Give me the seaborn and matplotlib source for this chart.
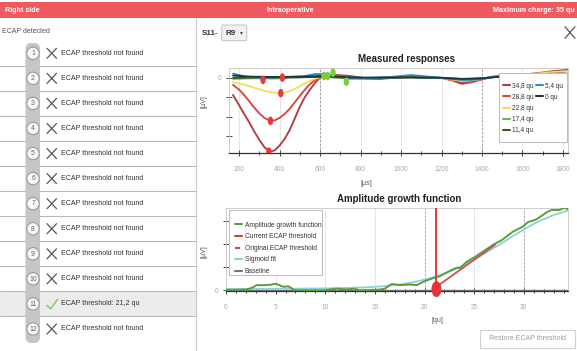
import matplotlib
matplotlib.use("Agg")
import numpy as np
import pandas as pd
import matplotlib.pyplot as plt
import seaborn as sns
from matplotlib import font_manager as fm
from matplotlib.path import Path
from matplotlib.markers import MarkerStyle
from matplotlib.patches import Rectangle, Circle, FancyBboxPatch
from matplotlib.lines import Line2D
import matplotlib.ticker as mticker
import matplotlib.transforms as mtrans

# ---------------- DATA ----------------
header_left = "Right side"
header_mid = "Intraoperative"
header_right = "Maximum charge: 35 qu"
panel_caption = "ECAP detected"
electrodes = list(range(1, 13))
electrode_status = ["ECAP threshold not found"] * 10 + ["ECAP threshold: 21,2 qu", "ECAP threshold not found"]
electrode_found = [False] * 10 + [True, False]
selected_electrode = 11
stim_label = "S11-"
rec_label = "R9"

time_us = [170, 200, 225, 250, 275, 300, 325, 350, 375, 400, 425, 450, 475, 500, 525, 550, 575, 600,
           650, 700, 750, 800, 850, 900, 950, 1000, 1050, 1100, 1150, 1200, 1250, 1300, 1350, 1400,
           1450, 1500, 1550, 1600, 1650, 1700, 1750, 1825]
resp_34_8 = [-0.87, -1.40, -1.85, -2.28, -2.75, -3.18, -3.55, -3.78, -3.72, -3.47, -3.12, -2.67, -2.08, -1.47,
             -0.98, -0.60, -0.25, 0.02, 0.15, 0.14, 0.10, 0.02, -0.05, -0.05, 0.00, 0.02, 0.05, 0.03, 0.02,
             0.00, -0.12, -0.30, -0.22, -0.08, 0.05, 0.15, 0.18, 0.20, 0.20, 0.22, 0.27, 0.35]
resp_28_8 = [-0.36, -0.60, -0.88, -1.20, -1.52, -1.82, -2.05, -2.18, -2.18, -2.05, -1.85, -1.58, -1.25, -0.92,
             -0.60, -0.32, -0.10, 0.05, 0.15, 0.12, 0.05, -0.02, -0.06, -0.02, 0.02, 0.05, 0.04, 0.00, 0.02,
             0.00, -0.10, -0.22, -0.18, -0.05, 0.05, 0.12, 0.15, 0.18, 0.22, 0.28, 0.35, 0.42]
resp_22_8 = [-0.22, -0.28, -0.34, -0.42, -0.50, -0.58, -0.66, -0.72, -0.76, -0.78, -0.76, -0.68, -0.56, -0.42,
             -0.28, -0.15, -0.04, 0.04, 0.08, 0.06, 0.02, 0.00, -0.02, 0.00, 0.02, 0.03, 0.02, 0.00, 0.00,
             -0.02, -0.08, -0.15, -0.12, -0.05, 0.05, 0.12, 0.15, 0.18, 0.20, 0.25, 0.30, 0.35]
resp_17_4 = [-0.05, -0.04, -0.03, -0.02, -0.02, -0.02, -0.02, -0.03, -0.03, -0.02, 0.00, 0.02, 0.03, 0.04,
             0.05, 0.06, 0.07, 0.08, 0.05, 0.00, -0.05, -0.05, -0.02, 0.00, 0.02, 0.05, 0.08, 0.05, 0.02,
             0.00, -0.05, -0.08, -0.06, -0.03, 0.05, 0.10, 0.12, 0.12, 0.13, 0.14, 0.15, 0.16]
resp_11_4 = [0.00, 0.00, 0.01, 0.01, 0.02, 0.02, 0.02, 0.02, 0.02, 0.02, 0.02, 0.03, 0.03, 0.03,
             0.04, 0.04, 0.05, 0.05, 0.04, 0.03, 0.01, 0.00, 0.00, 0.01, 0.02, 0.02, 0.03, 0.02, 0.01,
             0.00, -0.03, -0.05, -0.04, -0.02, 0.03, 0.08, 0.09, 0.10, 0.10, 0.11, 0.12, 0.12]
resp_5_4 = [0.22, 0.15, 0.08, 0.05, 0.03, 0.02, 0.02, 0.02, 0.03, 0.04, 0.05, 0.06, 0.07, 0.08,
            0.10, 0.15, 0.20, 0.20, 0.15, 0.05, 0.00, 0.00, 0.00, 0.02, 0.05, 0.10, 0.15, 0.10, 0.05,
            0.00, -0.05, -0.10, -0.10, -0.05, 0.05, 0.10, 0.15, 0.15, 0.18, 0.20, 0.22, 0.22]
resp_0 = [0.12, 0.10, 0.08, 0.07, 0.06, 0.06, 0.05, 0.05, 0.05, 0.05, 0.05, 0.05, 0.06, 0.06,
          0.07, 0.08, 0.09, 0.10, 0.10, 0.06, 0.03, 0.02, 0.02, 0.02, 0.02, 0.03, 0.03, 0.02, 0.02,
          0.01, -0.02, -0.05, -0.04, -0.02, 0.03, 0.08, 0.09, 0.10, 0.10, 0.11, 0.12, 0.12]
level_labels = ["34,8 qu", "28,8 qu", "22,8 qu", "17,4 qu", "11,4 qu", "5,4 qu", "0 qu"]
level_series = [resp_34_8, resp_28_8, resp_22_8, resp_17_4, resp_11_4, resp_5_4, resp_0]

peak_n1_us = [318, 414, 406, 355, 347]
peak_n1_uv = [-0.10, 0.02, -0.78, -2.20, -3.78]
peak_p2_us = [619, 638, 664, 730]
peak_p2_uv = [0.10, 0.10, 0.27, -0.19]

agf_qu = [0, 1, 2, 2.6, 3.1, 3.8, 4.5, 5.0, 5.8, 6.3, 6.9, 7.5, 8, 9, 10, 11.1, 12.2, 12.9, 13.4, 14.5,
          15.5, 16.0, 16.7, 17.5, 18.5, 19.2, 20.0, 20.9, 21.5, 22.6, 23.2, 23.6, 24.2, 25.0, 25.9, 26.9,
          27.8, 28.9, 29.9, 30.4, 31.3, 32.3, 32.8, 33.6, 34.1, 34.4]
agf_uv = [0.02, 0.02, 0.03, 0.10, 0.22, 0.22, 0.24, 0.28, 0.15, 0.17, 0.00, 0.00, 0.00, 0.00, 0.00, 0.07,
          0.03, 0.07, 0.00, 0.01, 0.03, 0.07, 0.27, 0.22, 0.25, 0.22, 0.39, 0.53, 0.60, 0.85, 0.97, 0.97,
          1.22, 1.42, 1.68, 1.97, 2.18, 2.54, 2.76, 2.95, 3.08, 3.38, 3.48, 3.48, 3.58, 3.52]
sigmoid_qu = [0, 5, 10, 14, 16, 18, 19, 20, 21, 22, 23, 24, 25, 26, 27, 28, 29, 30, 31, 32, 33, 34, 34.4]
sigmoid_uv = [0.05, 0.06, 0.08, 0.12, 0.18, 0.28, 0.36, 0.46, 0.58, 0.73, 0.90, 1.10, 1.33, 1.58, 1.84,
              2.10, 2.38, 2.63, 2.88, 3.08, 3.26, 3.40, 3.45]
baseline_qu = [0, 34.4]
baseline_uv = [0.0, 0.0]
fit_qu = [21.2, 27.1]
fit_uv = [0.15, 1.97]
threshold_qu = 21.2
threshold_marker_uv = 0.05
resp_window_us = [600, 1400]
agf_dashed_qu = [20, 30]
button_label = "Restore ECAP threshold"

# ---------------- STYLE ----------------
sns.set_theme(style="white")
names = {f.name for f in fm.fontManager.ttflist}
NARROW = "Liberation Sans Narrow" if "Liberation Sans Narrow" in names else "Liberation Sans"
plt.rcParams["font.family"] = [NARROW, "DejaVu Sans"]
plt.rcParams["axes.unicode_minus"] = False

W, H = 577, 351
fig = plt.figure(figsize=(W / 100, H / 100), dpi=100)
fig.patch.set_facecolor("white")

ui = fig.add_axes([0, 0, 1, 1])
ui.set_xlim(0, W)
ui.set_ylim(H, 0)
ui.axis("off")
ui.set_zorder(0)


def rect(l, t, r, b):
    return [l / W, 1 - b / H, (r - l) / W, (b - t) / H]


# header
HDR_T, HDR_B = 2.0, 18.3
HDR_C = (HDR_T + HDR_B) / 2
ui.add_patch(Rectangle((0, HDR_T), W, HDR_B - HDR_T, color="#ef5a60", lw=0))
ui.text(5, HDR_C, header_left, color="white", fontsize=5.1, fontweight="bold", va="center", ha="left")
ui.text(290, HDR_C, header_mid, color="white", fontsize=5.1, fontweight="bold", va="center", ha="center")
ui.text(575, HDR_C, header_right, color="white", fontsize=5.1, fontweight="bold", va="center", ha="right")

# left panel
PANEL_R = 195.7
ui.plot([PANEL_R, PANEL_R], [HDR_B, H], color="#cfcfcf", lw=0.9)
ui.text(2.5, 31.7, panel_caption, fontsize=5.0, color="#555555", va="center", ha="left")
ROW0, STEP = 53.3, 25.06
for i, (num, status, ok) in enumerate(zip(electrodes, electrode_status, electrode_found)):
    yc = ROW0 + i * STEP
    if num == selected_electrode:
        ui.add_patch(Rectangle((0, yc - STEP / 2), PANEL_R, STEP, color="#ececec", lw=0))
    if i > 0:
        ui.plot([0, PANEL_R], [yc - STEP / 2] * 2, color="#b9b9b9", lw=0.8)
ui.add_patch(FancyBboxPatch((25.5, 43), 14.5, 300, boxstyle="round,pad=0,rounding_size=6",
                            color="#c6c6c6", lw=0, zorder=3))
for i, (num, status, ok) in enumerate(zip(electrodes, electrode_status, electrode_found)):
    yc = ROW0 + i * STEP
    ui.add_patch(Circle((33, yc), 6.2, facecolor="#f7f7f7", edgecolor="#9a9a9a", lw=0.8, zorder=4))
    ui.text(33, yc + 0.3, str(num), fontsize=4.9, color="#666666", ha="center", va="center", zorder=5)
    if ok:
        ui.plot([47, 50.5, 57.5], [yc + 1.5, yc + 5, yc - 4.5], color="#8cc864", lw=1.1,
                solid_capstyle="round")
    else:
        ui.plot([47, 56.5], [yc - 5, yc + 5], color="#555555", lw=0.9)
        ui.plot([47, 56.5], [yc + 5, yc - 5], color="#555555", lw=0.9)
    ui.text(61, yc, status, fontsize=5.1, color="#333333", va="center", ha="left")

# right panel header
ui.text(202, 33.3, stim_label, fontsize=5.8, fontweight="bold", color="#333333", va="center", ha="left")
ui.add_patch(FancyBboxPatch((221.7, 25), 25, 15.7, boxstyle="round,pad=0,rounding_size=1.5",
                            facecolor="#f1f1f1", edgecolor="#c8c8c8", lw=0.8))
ui.text(225, 33.3, rec_label, fontsize=5.8, fontweight="bold", color="#333333", va="center", ha="left")
ui.text(239.5, 33.0, "▾", fontsize=4.2, color="#444444", va="center", ha="left", family=["DejaVu Sans"])
ui.plot([565, 575], [26.7, 38.3], color="#555555", lw=0.9)
ui.plot([565, 575], [38.3, 26.7], color="#555555", lw=0.9)

# restore button
ui.add_patch(Rectangle((480, 329.5), 95, 18, facecolor="white", edgecolor="#d0d0d0", lw=0.8))
ui.text(527.5, 338.5, button_label, fontsize=5.0, color="#9a9a9a", ha="center", va="center")

ell = MarkerStyle(Path.unit_circle().transformed(mtrans.Affine2D().scale(0.63, 1.0)))

# ---------------- TOP CHART ----------------
T_L, T_T, T_R, T_B = 229, 68, 568, 153
ax1 = fig.add_axes(rect(T_L, T_T, T_R, T_B))
ax1.set_zorder(1)
ax1.set_facecolor("white")
palette = {"34,8 qu": "#b23b45", "28,8 qu": "#d6463f", "22,8 qu": "#f0e05a", "17,4 qu": "#6cb84a",
           "11,4 qu": "#3a5a22", "5,4 qu": "#2e8fc0", "0 qu": "#1f3344"}
rows = []
for lab, ser in zip(level_labels, level_series):
    for t, v in zip(time_us, ser):
        rows.append((t, v, lab))
df_resp = pd.DataFrame(rows, columns=["time", "amp", "level"])

ax1.set_xlim(150, 1825)
ax1.set_ylim(-3.85, 0.51)
ax1.xaxis.set_major_locator(mticker.MultipleLocator(200))
ax1.xaxis.set_minor_locator(mticker.MultipleLocator(100))
ax1.grid(axis="x", which="major", color="#e6e6e6", lw=0.7)
for w in resp_window_us:
    ax1.axvline(w, color="#9a9a9a", lw=0.7, ls=(0, (2, 2)), zorder=1)

sns.lineplot(data=df_resp, x="time", y="amp", hue="level", hue_order=level_labels, palette=palette,
             ax=ax1, linewidth=1.35, legend=False, estimator=None, sort=False, zorder=2)
sns.scatterplot(x=peak_n1_us, y=peak_n1_uv, ax=ax1, color="#e23c3c", marker=ell, s=38,
                edgecolor="none", zorder=5)
sns.scatterplot(x=peak_p2_us, y=peak_p2_uv, ax=ax1, color="#7dcc3c", marker=ell, s=38,
                edgecolor="none", zorder=5)

ax1.set_yticks([0, -1, -2, -3])
ax1.set_yticklabels(["0", "", "", ""])
ax1.set_xlabel("[µs]", fontsize=5.0, color="#555555")
ax1.set_ylabel("[µV]", fontsize=5.0, color="#555555")
ax1.xaxis.set_label_coords((366 - T_L) / (T_R - T_L), -(180 - T_B) / (T_B - T_T))
ax1.yaxis.set_label_coords((207 - T_L) / (T_R - T_L), 1 - (101.7 - T_T) / (T_B - T_T))
ax1.tick_params(axis="both", which="major", direction="inout", length=4, width=0.7, color="#444444",
                labelsize=4.8, labelcolor="#aaaaaa", bottom=True, left=True)
ax1.tick_params(axis="x", which="major", pad=7.5)
ax1.tick_params(axis="y", which="major", pad=3.5)
ax1.tick_params(axis="x", which="minor", direction="inout", length=3, width=0.7, color="#444444",
                bottom=True)
for s in ["top", "right", "left"]:
    ax1.spines[s].set_color("#cdcdcd")
    ax1.spines[s].set_linewidth(0.7)
ax1.spines["bottom"].set_color("#333333")
ax1.spines["bottom"].set_linewidth(0.9)
ax1.text((406 - T_L) / (T_R - T_L), 1 + (T_T - 59) / (T_B - T_T), "Measured responses",
         transform=ax1.transAxes, fontsize=7.0, fontweight="bold", color="#222222", ha="center",
         va="center")


def ax_frac(ax_box, x, y):
    l, t, r, b = ax_box
    return ((x - l) / (r - l), 1 - (y - t) / (b - t))


top_box = (T_L, T_T, T_R, T_B)
fx0, fy0 = ax_frac(top_box, 499, 73)
fx1, fy1 = ax_frac(top_box, 566.5, 142)
ax1.add_patch(Rectangle((fx0, fy1), fx1 - fx0, fy0 - fy1, transform=ax1.transAxes, facecolor="white",
                        edgecolor="#bbbbbb", lw=0.7, zorder=8))
handles = [Line2D([], [], color=palette[l], lw=1.5) for l in level_labels]
blank = Line2D([], [], color="none")
leg_h = handles[:5] + handles[5:] + [blank] * 3
leg_l = level_labels[:5] + level_labels[5:] + [""] * 3
leg1 = ax1.legend(leg_h, leg_l, ncol=2, loc="upper left", bbox_to_anchor=ax_frac(top_box, 502.5, 82.6),
                  fontsize=4.7, frameon=False, handlelength=1.1, handletextpad=0.35, columnspacing=0.3,
                  labelspacing=0.64, borderpad=0, borderaxespad=0)
leg1.set_zorder(9)
for t in leg1.get_texts():
    t.set_color("#333333")

# ---------------- BOTTOM CHART ----------------
B_L, B_T, B_R, B_B = 226, 207.7, 568, 290.7
bot_box = (B_L, B_T, B_R, B_B)
ax2 = fig.add_axes(rect(B_L, B_T, B_R, B_B))
ax2.set_zorder(1)
ax2.set_facecolor("white")
ax2.set_xlim(0, 34.45)
ax2.set_ylim(-0.02, 3.58)
ax2.xaxis.set_major_locator(mticker.MultipleLocator(5))
ax2.xaxis.set_minor_locator(mticker.MultipleLocator(1))
ax2.grid(axis="x", which="major", color="#e6e6e6", lw=0.7)
for q in agf_dashed_qu:
    ax2.axvline(q, color="#a8a8a8", lw=0.7, ls=(0, (2, 2)), zorder=1)

df_agf = pd.DataFrame({"qu": agf_qu, "uv": agf_uv})
df_sig = pd.DataFrame({"qu": sigmoid_qu, "uv": sigmoid_uv})
df_base = pd.DataFrame({"qu": baseline_qu, "uv": baseline_uv})
df_fit = pd.DataFrame({"qu": fit_qu, "uv": fit_uv})
sns.lineplot(data=df_base, x="qu", y="uv", ax=ax2, color="#777777", lw=1.0, zorder=2)
sns.lineplot(data=df_sig, x="qu", y="uv", ax=ax2, color="#8ecfe0", lw=1.3, zorder=3)
sns.lineplot(data=df_agf, x="qu", y="uv", ax=ax2, color="#5a9e3a", lw=1.4, zorder=4, estimator=None)
sns.lineplot(data=df_fit, x="qu", y="uv", ax=ax2, color="#cc5058", lw=1.3, zorder=5)
ax2.axvline(threshold_qu, color="#e0393e", lw=1.4, zorder=6)
sns.scatterplot(x=[threshold_qu], y=[threshold_marker_uv], ax=ax2, color="#e5333a", marker=ell, s=130,
                edgecolor="none", zorder=7, clip_on=False)

ax2.set_yticks([0, 1, 2, 3])
ax2.set_yticklabels(["0", "", "", ""])
ax2.set_xlabel("[qu]", fontsize=5.0, color="#555555")
ax2.set_ylabel("[µV]", fontsize=5.0, color="#555555")
ax2.xaxis.set_label_coords((437 - B_L) / (B_R - B_L), -(317 - B_B) / (B_B - B_T))
ax2.yaxis.set_label_coords((207 - B_L) / (B_R - B_L), 1 - (252 - B_T) / (B_B - B_T))
ax2.tick_params(axis="both", which="major", direction="inout", length=4, width=0.7, color="#444444",
                labelsize=4.8, labelcolor="#aaaaaa", bottom=True, left=True)
ax2.tick_params(axis="x", which="major", pad=7.5)
ax2.tick_params(axis="y", which="major", pad=3.5)
ax2.tick_params(axis="x", which="minor", direction="inout", length=3, width=0.7, color="#444444",
                bottom=True)
for s in ["top", "right", "left"]:
    ax2.spines[s].set_color("#cdcdcd")
    ax2.spines[s].set_linewidth(0.7)
ax2.spines["bottom"].set_color("#333333")
ax2.spines["bottom"].set_linewidth(0.9)
ax2.text((399 - B_L) / (B_R - B_L), 1 + (B_T - 199) / (B_B - B_T), "Amplitude growth function",
         transform=ax2.transAxes, fontsize=7.0, fontweight="bold", color="#222222", ha="center",
         va="center")

gx0, gy0 = ax_frac(bot_box, 229, 210)
gx1, gy1 = ax_frac(bot_box, 322, 275)
ax2.add_patch(Rectangle((gx0, gy1), gx1 - gx0, gy0 - gy1, transform=ax2.transAxes, facecolor="white",
                        edgecolor="#bbbbbb", lw=0.7, zorder=8))
h2 = [Line2D([], [], color="#5a9e3a", lw=1.5), Line2D([], [], color="#e0393e", lw=1.5),
      Line2D([], [], color="#d04848", lw=1.5, ls=(0, (2.5, 1.5))), Line2D([], [], color="#8ecfe0", lw=1.5),
      Line2D([], [], color="#777777", lw=1.5)]
l2 = ["Amplitude growth function", "Current ECAP threshold", "Original ECAP threshold", "Sigmoid fit",
      "Baseline"]
leg2 = ax2.legend(h2, l2, loc="upper left", bbox_to_anchor=ax_frac(bot_box, 235, 221.6), fontsize=4.75,
                  frameon=False, handlelength=1.1, handletextpad=0.35, labelspacing=0.7, borderpad=0,
                  borderaxespad=0)
leg2.set_zorder(9)
for t in leg2.get_texts():
    t.set_color("#333333")

fig.savefig("out.png", dpi=100, facecolor="white")
